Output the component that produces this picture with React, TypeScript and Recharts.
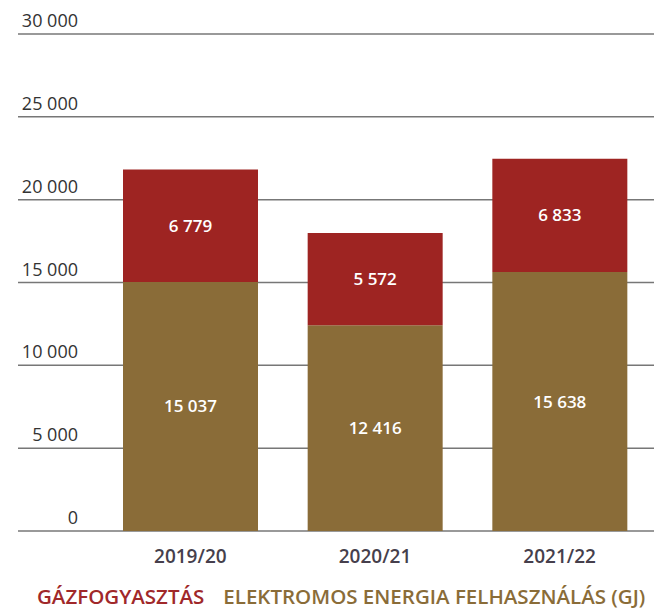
import React from "react";
import { BarChart, Bar, XAxis, YAxis, CartesianGrid, LabelList } from "recharts";

const categories = ["2019/20", "2020/21", "2021/22"];
const electricity = [15037, 12416, 15638];
const gas = [6779, 5572, 6833];
const yTicks = [0, 5000, 10000, 15000, 20000, 25000, 30000];

const data = categories.map((c, i) => ({ name: c, elec: electricity[i], gas: gas[i] }));

const FONT = "'Open Sans', sans-serif";
const fmt = (v: any) => String(v).replace(/\B(?=(\d{3})+(?!\d))/g, " ");

const YTick = (props: any) => {
  const { y, payload } = props;
  return (
    <text x={78} y={y - 14} textAnchor="end" dominantBaseline="central" fontFamily={FONT} fontSize={18} fill="#333">
      {fmt(payload.value)}
    </text>
  );
};

const XTick = (props: any) => {
  const { x, payload } = props;
  return (
    <text x={x} y={556} textAnchor="middle" dominantBaseline="central" fontFamily={FONT} fontSize={19} fontWeight={600} fill="#463f4c">
      {payload.value}
    </text>
  );
};

export default function App() {
  return (
    <div style={{ position: "relative", top: -8, left: -8, width: 662, height: 609, background: "#fff" }}>
      <BarChart width={662} height={609} data={data} margin={{ top: 34, right: 0, left: 0, bottom: 48 }} barSize={135}>
        <CartesianGrid horizontal vertical={false} stroke="#777" strokeWidth={1.5} />
        <YAxis width={18} domain={[0, 30000]} ticks={yTicks} axisLine={false} tickLine={false} tick={<YTick />} interval={0} />
        <XAxis dataKey="name" height={30} axisLine={false} tickLine={false} tick={<XTick />} padding={{ left: 80, right: 10 }} interval={0} />
        <Bar dataKey="elec" stackId="a" fill="#8a6c38" isAnimationActive={false}>
          <LabelList dataKey="elec" position="center" formatter={fmt} fill="#fff" fontFamily={FONT} fontSize={17} fontWeight={600} />
        </Bar>
        <Bar dataKey="gas" stackId="a" fill="#9e2422" isAnimationActive={false}>
          <LabelList dataKey="gas" position="center" formatter={fmt} fill="#fff" fontFamily={FONT} fontSize={17} fontWeight={600} />
        </Bar>
      </BarChart>
      <div style={{ position: "absolute", top: 583, left: 37, fontFamily: FONT, fontSize: 20.5, fontWeight: 600, whiteSpace: "nowrap", lineHeight: "26px" }}>
        <span style={{ color: "#a0282a" }}>GÁZFOGYASZTÁS</span>
        <span style={{ color: "#8a6c38", marginLeft: 19 }}>ELEKTROMOS ENERGIA FELHASZNÁLÁS (GJ)</span>
      </div>
    </div>
  );
}
